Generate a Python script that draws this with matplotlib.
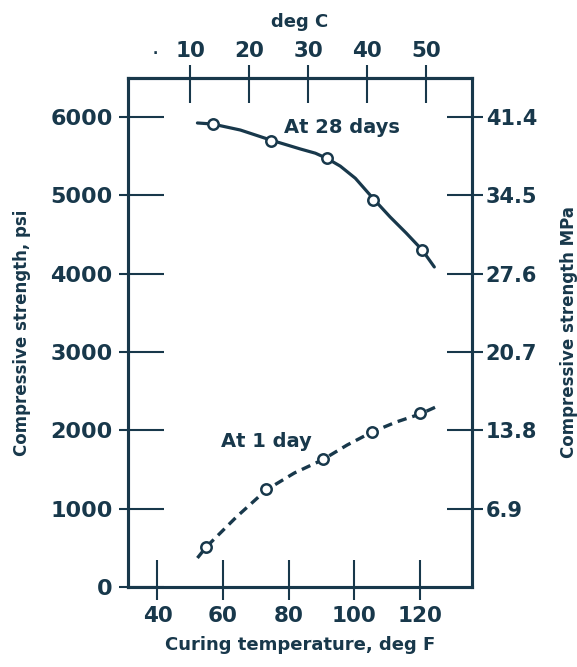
import numpy as np
import matplotlib.pyplot as plt

# measured points, deg F vs psi
temp_f = [57, 74.6, 91.6, 105.9, 120.6]
psi_28d = [5910, 5700, 5480, 4945, 4300]
temp_f_1d = [54.8, 73.2, 90.5, 105.4, 120.1]
psi_1d = [510, 1250, 1640, 1985, 2225]

# hand drawn curves
curve28_f = [52.2, 56.8, 65.3, 74.5, 83.6, 88.2, 91.8, 95.8, 100.4, 105.9, 111.0, 115.9, 120.8, 124.5]
curve28_psi = [5926, 5913, 5836, 5709, 5594, 5540, 5472, 5375, 5220, 4958, 4726, 4521, 4304, 4087]
curve1_f = [52.2, 54.9, 64.1, 73.2, 81.8, 90.3, 97.9, 105.5, 112.9, 120.2, 126.3]
curve1_psi = [370, 511, 894, 1239, 1456, 1622, 1813, 1979, 2107, 2209, 2324]

psi_ticks = [0, 1000, 2000, 3000, 4000, 5000, 6000]
mpa_ticks = [6.9, 13.8, 20.7, 27.6, 34.5, 41.4]
mpa_labels = ['6.9', '13.8', '20.7', '27.6', '34.5', '41.4']
f_ticks = [40, 60, 80, 100, 120]
c_ticks = [10, 20, 30, 40, 50]

ink = '#18384b'
plt.rcParams['font.family'] = 'DejaVu Sans'
plt.rcParams['font.weight'] = 'bold'
plt.rcParams['axes.labelweight'] = 'bold'

fig = plt.figure(figsize=(5.77, 6.67), dpi=100)
ax = fig.add_axes([0.2218, 0.12, 0.818 - 0.2218, 0.883 - 0.12])

ax.plot(curve28_f, curve28_psi, color=ink, lw=2.3, solid_capstyle='round',
        solid_joinstyle='round', zorder=2)
ax.plot(curve1_f, curve1_psi, color=ink, lw=2.4, dashes=(2.8, 1.8), zorder=2)
ax.plot(temp_f, psi_28d, 'o', ms=7.5, mfc='white', mec=ink, mew=1.8, zorder=3)
ax.plot(temp_f_1d, psi_1d, 'o', ms=7.5, mfc='white', mec=ink, mew=1.8, zorder=3)

ax.set_xlim(31, 136)
ax.set_ylim(0, 6500)

for s in ax.spines.values():
    s.set_linewidth(2.2)
    s.set_color(ink)

ax.set_xticks(f_ticks)
ax.set_xticks(f_ticks, minor=True)
ax.set_yticks(psi_ticks)
ax.set_yticks(psi_ticks, minor=True)
ax.xaxis.remove_overlapping_locs = False
ax.yaxis.remove_overlapping_locs = False
ax.tick_params(axis='x', which='major', direction='in', length=19.5, width=1.5, color=ink,
               labelsize=15.5, labelcolor=ink, pad=14)
ax.tick_params(axis='x', which='minor', direction='out', length=9.4, width=1.5, color=ink)
ax.tick_params(axis='y', which='major', direction='in', length=26, width=1.5, color=ink,
               labelsize=16, labelcolor=ink, pad=11)
ax.tick_params(axis='y', which='minor', direction='out', length=6.5, width=1.5, color=ink)
ax.set_xlabel('Curing temperature, deg F', fontsize=13, color=ink, labelpad=7)
ax.set_ylabel('Compressive strength, psi', fontsize=12, color=ink, labelpad=14)

# right axis in MPa
ax2 = ax.twinx()
ax2.set_ylim(0, 6500 * 0.0069)
ax2.set_yticks(mpa_ticks, mpa_labels)
ax2.set_yticks(mpa_ticks, minor=True)
ax2.yaxis.remove_overlapping_locs = False
ax2.tick_params(axis='y', which='major', direction='in', length=18, width=1.5, color=ink,
                labelsize=15, labelcolor=ink, pad=10)
ax2.tick_params(axis='y', which='minor', direction='out', length=8, width=1.5, color=ink)
ax2.set_ylabel('Compressive strength MPa', fontsize=12, color=ink, labelpad=16)
for s in ax2.spines.values():
    s.set_linewidth(2.2)
    s.set_color(ink)

# top axis in deg C
top = ax.secondary_xaxis('top', functions=(lambda f: (f - 32) / 1.8, lambda c: c * 1.8 + 32))
top.set_xticks(c_ticks)
top.set_xticks(c_ticks, minor=True)
top.xaxis.remove_overlapping_locs = False
top.tick_params(axis='x', which='major', direction='in', length=18, width=1.5, color=ink,
                labelsize=15.5, labelcolor=ink, pad=12)
top.tick_params(axis='x', which='minor', direction='out', length=9.4, width=1.5, color=ink)
top.spines['top'].set_linewidth(2.2)
top.spines['top'].set_color(ink)
top.set_xlabel('deg C', fontsize=13, color=ink, labelpad=10)

ax.text(96.4, 5874, 'At 28 days', fontsize=14, color=ink, ha='center', va='center')
ax.text(73.2, 1852, 'At 1 day', fontsize=14, color=ink, ha='center', va='center')
fig.text(155 / 577, 1 - 50 / 667, '.', fontsize=10, color=ink, ha='center', va='center')

fig.savefig('out.png', dpi=100)
